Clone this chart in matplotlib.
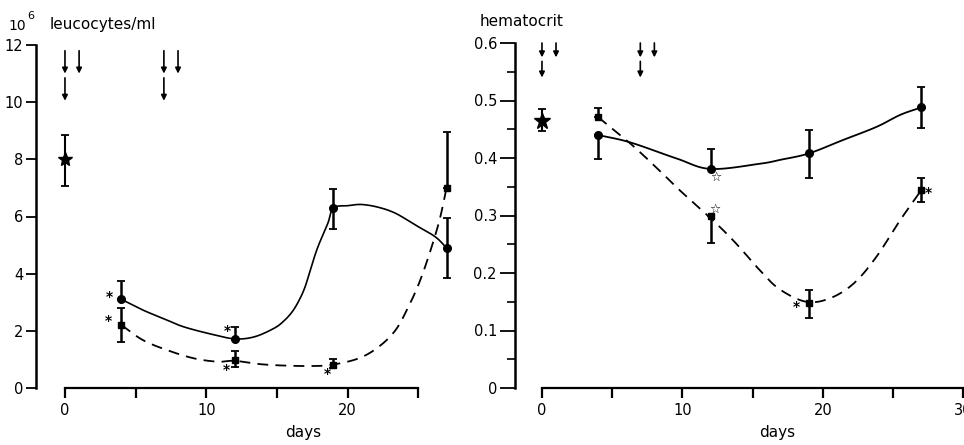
import numpy as np
import matplotlib
matplotlib.use("Agg")
import matplotlib.pyplot as plt

# ---- data ----
days = [4, 12, 19, 27]

# leucocytes (10^6/ml)
leu_ctrl = 8.0
leu_ctrl_err = (7.05, 8.85)
leu_circ = [3.1, 1.7, 6.3, 4.9]
leu_circ_lo = [3.1, 1.7, 5.55, 3.85]
leu_circ_hi = [3.75, 2.15, 6.95, 5.95]
leu_sq = [2.2, 0.98, 0.82, 7.0]
leu_sq_lo = [1.6, 0.75, 0.7, 7.0]
leu_sq_hi = [2.8, 1.3, 1.0, 8.95]

# hand drawn curves, traced
leu_solid_x = [4, 5.5, 7.2, 8.4, 10.3, 12, 13.4, 14.8, 15.5, 16.1, 16.6, 17.0, 17.4, 17.9, 18.6, 19,
               20.05, 21.0, 22.2, 23.4, 24.8, 26.2, 27]
leu_solid_y = [3.1, 2.73, 2.38, 2.14, 1.89, 1.72, 1.79, 2.09, 2.35, 2.68, 3.1, 3.55, 4.2, 4.94, 5.76, 6.3,
               6.38, 6.42, 6.32, 6.11, 5.70, 5.29, 4.9]
leu_dash_x = [4, 5.5, 7.2, 9.1, 10.8, 12, 13.9, 15.8, 17.7, 19, 20.8, 22.2, 23.4, 24.3, 25.05, 25.8, 26.5, 27]
leu_dash_y = [2.2, 1.68, 1.33, 1.04, 0.92, 0.95, 0.83, 0.78, 0.77, 0.82, 1.04, 1.44, 2.03, 2.84, 3.66,
              4.71, 5.87, 7.0]

leu_star_x = [3.15, 3.07, 11.5, 11.4, 18.6]
leu_star_y = [3.2, 2.35, 2.0, 0.63, 0.48]

# hematocrit
hem_ctrl = 0.465
hem_ctrl_err = (0.447, 0.486)
hem_circ = [0.44, 0.381, 0.408, 0.488]
hem_circ_lo = [0.398, 0.381, 0.365, 0.452]
hem_circ_hi = [0.44, 0.416, 0.449, 0.523]
hem_sq = [0.471, 0.30, 0.148, 0.344]
hem_sq_lo = [0.471, 0.252, 0.121, 0.324]
hem_sq_hi = [0.487, 0.30, 0.170, 0.365]

hem_solid_x = [4, 6.3, 9.6, 12, 15.5, 17, 19, 21.4, 23.8, 25.5, 27]
hem_solid_y = [0.44, 0.427, 0.399, 0.381, 0.390, 0.397, 0.408, 0.431, 0.454, 0.475, 0.488]
hem_dash_x = [4, 6.3, 8.2, 9.8, 11.8, 13.6, 15.5, 16.9, 18.8, 20.5, 22.2, 23.8, 25.5, 27]
hem_dash_y = [0.471, 0.425, 0.382, 0.344, 0.30, 0.257, 0.205, 0.172, 0.150, 0.156, 0.182, 0.228,
              0.292, 0.344]

hem_open_x = [12.4, 12.3]
hem_open_y = [0.367, 0.31]
hem_star_x = [18.1, 27.5]
hem_star_y = [0.141, 0.339]

# injection arrows
arrow_top = [0, 1, 7, 8]
arrow_second = [0, 7]


def smooth(xs, ys, n=12):
    # catmull-rom through the traced points
    p = np.column_stack([xs, ys]).astype(float)
    p = np.vstack([2 * p[0] - p[1], p, 2 * p[-1] - p[-2]])
    out = []
    t = np.linspace(0, 1, n, endpoint=False)
    for i in range(1, len(p) - 2):
        p0, p1, p2, p3 = p[i - 1], p[i], p[i + 1], p[i + 2]
        for tt in t:
            out.append(0.5 * ((2 * p1) + (-p0 + p2) * tt +
                              (2 * p0 - 5 * p1 + 4 * p2 - p3) * tt ** 2 +
                              (-p0 + 3 * p1 - 3 * p2 + p3) * tt ** 3))
    out.append(p[-2])
    out = np.array(out)
    return out[:, 0], out[:, 1]


def errs(vals, lo, hi):
    v = np.array(vals)
    return [v - np.array(lo), np.array(hi) - v]


def style_axes(ax, xbound, xticks, xlabels, ybound, yticks, ylabels, major_len):
    for s in ["top", "right"]:
        ax.spines[s].set_visible(False)
    ax.spines["left"].set_bounds(*ybound)
    ax.spines["bottom"].set_bounds(*xbound)
    ax.spines["left"].set_linewidth(1.8)
    ax.spines["bottom"].set_linewidth(1.6)
    ax.set_xticks(xticks)
    ax.set_xticklabels(xlabels)
    ax.set_yticks(yticks)
    ax.set_yticklabels(ylabels)
    ax.tick_params(axis="x", direction="out", length=7, width=1.6, pad=4, labelsize=10.5)
    ax.tick_params(axis="y", direction="out", length=major_len, width=1.3, pad=2, labelsize=10.5)
    ax.patch.set_alpha(0)


def draw_arrows(ax, rows):
    for xs, (y0, y1) in rows:
        for x in xs:
            ax.annotate("", xy=(x, y1), xytext=(x, y0),
                        arrowprops=dict(arrowstyle="-|>", color="black", lw=1.2,
                                        mutation_scale=8, shrinkA=0, shrinkB=0),
                        annotation_clip=False)


def points(ax, vals, lo, hi, marker, ms):
    ax.errorbar(days, vals, yerr=errs(vals, lo, hi), fmt=marker, ms=ms, color="black",
                elinewidth=1.8, capsize=3, capthick=1.3, clip_on=False)


fig = plt.figure(figsize=(9.64, 4.45), dpi=100)

# ---------- left panel ----------
ax1 = fig.add_axes([36 / 964, 1 - 388 / 445, (470 - 36) / 964, (388 - 45) / 445])
ax1.set_xlim(-2.05, 28.66)
ax1.set_ylim(0, 12)
style_axes(ax1, (0, 25), [0, 5, 10, 15, 20, 25], ["0", "", "10", "", "20", ""],
           (0, 12), [0, 2, 4, 6, 8, 10, 12], ["0", "2", "4", "6", "8", "10", "12"], 7)

sx, sy = smooth(leu_solid_x, leu_solid_y)
ax1.plot(sx, sy, color="black", lw=1.2)
dx, dy = smooth(leu_dash_x, leu_dash_y)
ax1.plot(dx, dy, color="black", lw=1.3, dashes=(6, 4))
points(ax1, leu_circ, leu_circ_lo, leu_circ_hi, "o", 5.5)
points(ax1, leu_sq, leu_sq_lo, leu_sq_hi, "s", 4.5)
ax1.errorbar([0], [leu_ctrl], yerr=[[leu_ctrl - leu_ctrl_err[0]], [leu_ctrl_err[1] - leu_ctrl]],
             fmt="*", ms=10, color="black", elinewidth=1.5, capsize=3, capthick=1.3)
for x, y in zip(leu_star_x, leu_star_y):
    ax1.text(x, y, "*", ha="center", va="center", fontsize=10, fontweight="bold")
draw_arrows(ax1, [(arrow_top, (11.8, 11.0)), (arrow_second, (10.85, 10.05))])

# ---------- right panel ----------
ax2 = fig.add_axes([515 / 964, 1 - 388 / 445, (964 - 515) / 964, (388 - 43) / 445])
ax2.set_xlim(-1.92, 30.04)
ax2.set_ylim(0, 0.6)
style_axes(ax2, (0, 30), [0, 5, 10, 15, 20, 25, 30], ["0", "", "10", "", "20", "", "30"],
           (0, 0.6), [0, 0.1, 0.2, 0.3, 0.4, 0.5, 0.6],
           ["0", "0.1", "0.2", "0.3", "0.4", "0.5", "0.6"], 11)
ax2.set_yticks([0.05, 0.15, 0.25, 0.35, 0.45, 0.55], minor=True)
ax2.tick_params(axis="y", which="minor", direction="out", length=6, width=1.2)

sx, sy = smooth(hem_solid_x, hem_solid_y)
ax2.plot(sx, sy, color="black", lw=1.3)
dx, dy = smooth(hem_dash_x, hem_dash_y)
ax2.plot(dx, dy, color="black", lw=1.3, dashes=(6, 4))
points(ax2, hem_circ, hem_circ_lo, hem_circ_hi, "o", 5.5)
points(ax2, hem_sq, hem_sq_lo, hem_sq_hi, "s", 4.5)
ax2.errorbar([0], [hem_ctrl], yerr=[[hem_ctrl - hem_ctrl_err[0]], [hem_ctrl_err[1] - hem_ctrl]],
             fmt="*", ms=12, color="black", elinewidth=1.5, capsize=3, capthick=1.3)
for x, y in zip(hem_open_x, hem_open_y):
    ax2.text(x, y, "\u2606", ha="center", va="center", fontsize=9)
for x, y in zip(hem_star_x, hem_star_y):
    ax2.text(x, y, "*", ha="center", va="center", fontsize=10, fontweight="bold")
draw_arrows(ax2, [(arrow_top, (0.600, 0.575)), (arrow_second, (0.568, 0.540))])

# ---------- labels ----------
fig.text(8 / 964, 1 - 26 / 445, "10", fontsize=10, va="center")
fig.text(27 / 964, 1 - 16 / 445, "6", fontsize=8, va="center")
fig.text(50 / 964, 1 - 24 / 445, "leucocytes/ml", fontsize=11, va="center")
fig.text(480 / 964, 1 - 21 / 445, "hematocrit", fontsize=11, va="center")
fig.text(303 / 964, 1 - 433 / 445, "days", fontsize=11, ha="center", va="center")
fig.text(777 / 964, 1 - 432 / 445, "days", fontsize=11, ha="center", va="center")

fig.savefig("out.png", dpi=100, facecolor="white")
